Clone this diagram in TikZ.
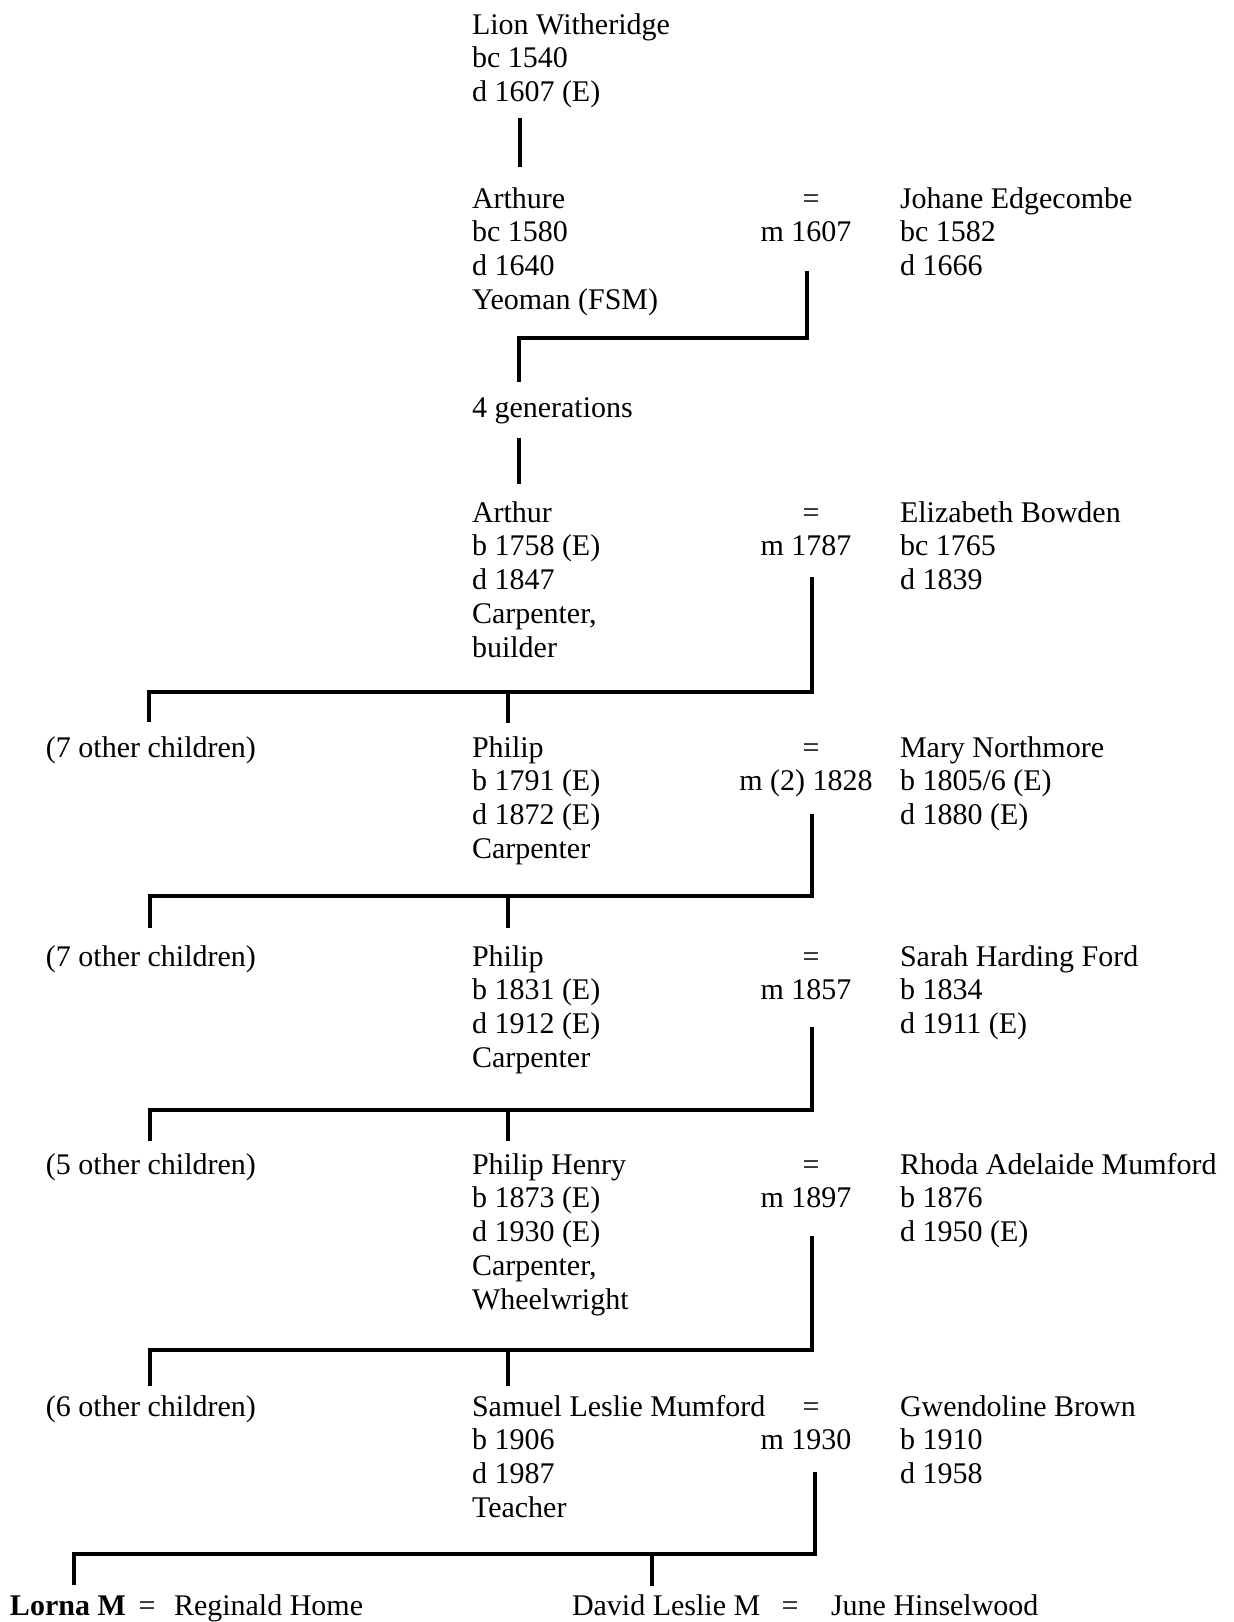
\documentclass[tikz,border=0pt]{standalone}
\usepackage{fontspec}
\setmainfont{Liberation Serif}
% one person's details, first line on the node's baseline
\newcommand{\famblock}[1]{\begin{tabular}[t]{@{}l@{}}#1\end{tabular}}
% marriage sign with the date underneath
\newcommand{\wedblock}[1]{\begin{tabular}[t]{@{}c@{}}\hspace*{5pt}=\\#1\end{tabular}}

\begin{document}
\begin{tikzpicture}[x=0.5pt,y=-0.5pt,
  txt/.style={inner sep=0pt, outer sep=0pt, font=\fontsize{15}{16.9}\selectfont},
  person/.style={txt, anchor=base west},
  wed/.style={txt, anchor=base},
  link/.style={line width=2pt, line join=miter}]
\useasboundingbox (0,0) rectangle (1234,1622);

% ---------- people ----------
\node[person] (lion)    at (472,34)  {\famblock{Lion Witheridge\\bc 1540\\d 1607 (E)}};

\node[person] (arthure) at (472,208) {\famblock{Arthure\\bc 1580\\d 1640\\Yeoman (FSM)}};
\node[wed]    (wedA)    at (806,208) {\wedblock{m 1607}};
\node[person] (johane)  at (900,208) {\famblock{Johane Edgecombe\\bc 1582\\d 1666}};

\node[person] (gens)    at (472,417) {4 generations};

\node[person] (arthur)  at (472,522) {\famblock{Arthur\\b 1758 (E)\\d 1847\\Carpenter,\\builder}};
\node[wed]    (wedB)    at (806,522) {\wedblock{m 1787}};
\node[person] (eliz)    at (900,522) {\famblock{Elizabeth Bowden\\bc 1765\\d 1839}};

\node[person] (othA)    at (46,757)  {(7 other children)};
\node[person] (philA)   at (472,757) {\famblock{Philip\\b 1791 (E)\\d 1872 (E)\\Carpenter}};
\node[wed]    (wedC)    at (806,757) {\wedblock{m (2) 1828}};
\node[person] (mary)    at (900,757) {\famblock{Mary Northmore\\b 1805/6 (E)\\d 1880 (E)}};

\node[person] (othB)    at (46,966)  {(7 other children)};
\node[person] (philB)   at (472,966) {\famblock{Philip\\b 1831 (E)\\d 1912 (E)\\Carpenter}};
\node[wed]    (wedD)    at (806,966) {\wedblock{m 1857}};
\node[person] (sarah)   at (900,966) {\famblock{Sarah Harding Ford\\b 1834\\d 1911 (E)}};

\node[person] (othC)    at (46,1174)  {(5 other children)};
\node[person] (philH)   at (472,1174) {\famblock{Philip Henry\\b 1873 (E)\\d 1930 (E)\\Carpenter,\\Wheelwright}};
\node[wed]    (wedE)    at (806,1174) {\wedblock{m 1897}};
\node[person] (rhoda)   at (900,1174) {\famblock{Rhoda Adelaide Mumford\\b 1876\\d 1950 (E)}};

\node[person] (othD)    at (46,1416)  {(6 other children)};
\node[person] (samuel)  at (472,1416) {\famblock{Samuel Leslie Mumford\\b 1906\\d 1987\\Teacher}};
\node[wed]    (wedF)    at (806,1416) {\wedblock{m 1930}};
\node[person] (gwen)    at (900,1416) {\famblock{Gwendoline Brown\\b 1910\\d 1958}};

\node[person] (lorna)   at (10,1615)  {\textbf{Lorna M}};
\node[wed]    (eqL)     at (147,1615) {=};
\node[person] (reg)     at (174,1615) {Reginald Home};
\node[person] (david)   at (572,1615) {David Leslie M};
\node[wed]    (eqD)     at (790,1615) {=};
\node[person] (june)    at (831,1615) {June Hinselwood};

% ---------- line ends and junctions ----------
\coordinate (lionDown)  at (520,118);
\coordinate (arthUp)    at (520,167);

\coordinate (wA)  at (807,271);
\coordinate (wAc) at (807,338);
\coordinate (kA)  at (519,338);
\coordinate (kAd) at (519,382);

\coordinate (gDown) at (519,438);
\coordinate (gUp)   at (519,484);

\coordinate (wB)  at (812,577);
\coordinate (wBc) at (812,692);
\coordinate (oB)  at (149,692);
\coordinate (oBd) at (149,722);
\coordinate (cB)  at (508,692);
\coordinate (cBd) at (508,723);

\coordinate (wC)  at (812,814);
\coordinate (wCc) at (812,896);
\coordinate (oC)  at (150,896);
\coordinate (oCd) at (150,928);
\coordinate (cC)  at (508,896);
\coordinate (cCd) at (508,928);

\coordinate (wD)  at (812,1027);
\coordinate (wDc) at (812,1110);
\coordinate (oD)  at (150,1110);
\coordinate (oDd) at (150,1141);
\coordinate (cD)  at (508,1110);
\coordinate (cDd) at (508,1141);

\coordinate (wE)  at (812,1236);
\coordinate (wEc) at (812,1350);
\coordinate (oE)  at (150,1350);
\coordinate (oEd) at (150,1386);
\coordinate (cE)  at (508,1350);
\coordinate (cEd) at (508,1386);

\coordinate (wF)  at (815,1472);
\coordinate (wFc) at (815,1554);
\coordinate (oF)  at (74,1554);
\coordinate (oFd) at (74,1585);
\coordinate (cF)  at (652,1554);
\coordinate (cFd) at (652,1586);

% ---------- descent lines ----------
\draw[link] (lionDown) -- (arthUp);
\draw[link] (wA) -- (wAc) -- (kA) -- (kAd);
\draw[link] (gDown) -- (gUp);

\draw[link] (wB) -- (wBc) -- (oB) -- (oBd);
\draw[link] (cB) -- (cBd);

\draw[link] (wC) -- (wCc) -- (oC) -- (oCd);
\draw[link] (cC) -- (cCd);

\draw[link] (wD) -- (wDc) -- (oD) -- (oDd);
\draw[link] (cD) -- (cDd);

\draw[link] (wE) -- (wEc) -- (oE) -- (oEd);
\draw[link] (cE) -- (cEd);

\draw[link] (wF) -- (wFc) -- (oF) -- (oFd);
\draw[link] (cF) -- (cFd);
\end{tikzpicture}
\end{document}
